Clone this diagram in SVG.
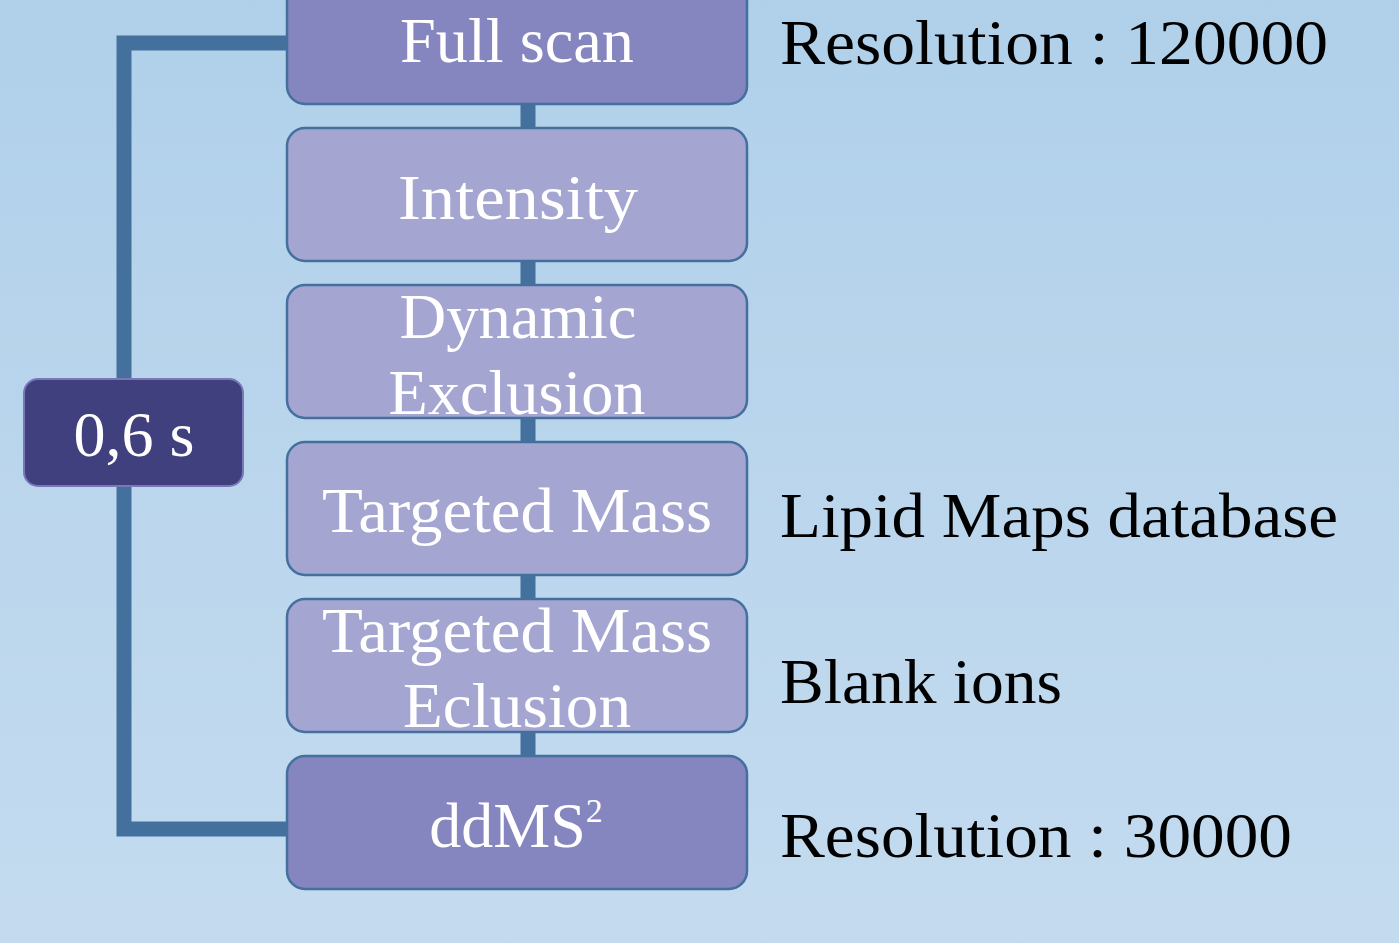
<svg xmlns="http://www.w3.org/2000/svg" width="1399" height="943" viewBox="0 0 1399 943">
<defs>
<linearGradient id="bg" x1="0" y1="0" x2="0" y2="1">
<stop offset="0" stop-color="#b0d0ea"/>
<stop offset="1" stop-color="#c4dbef"/>
</linearGradient>
<style>
.box{stroke:#44709e;stroke-width:2.5}
.dark{fill:#8585bf}
.light{fill:#a5a5d2}
.wt{font-family:"Liberation Serif","DejaVu Serif",serif;font-size:64px;fill:#ffffff;text-anchor:middle}
.bt{font-family:"Liberation Serif","DejaVu Serif",serif;font-size:64px;fill:#000000}
.conn{fill:none;stroke:#44709e;stroke-width:15}
</style>
</defs>
<rect width="1399" height="943" fill="url(#bg)"/>
<g id="connectors">
<polyline class="conn" points="290,43 124,43 124,829 290,829"/>
<line class="conn" x1="528" y1="100" x2="528" y2="760"/>
</g>
<g id="node-fullscan">
<rect class="box dark" x="287" y="-30" width="460" height="134" rx="18"/>
<text class="wt" x="517" y="62" textLength="234" lengthAdjust="spacingAndGlyphs">Full scan</text>
</g>
<g id="node-intensity">
<rect class="box light" x="287" y="128" width="460" height="133" rx="18"/>
<text class="wt" x="518" y="219" textLength="240" lengthAdjust="spacingAndGlyphs">Intensity</text>
</g>
<g id="node-dynamic">
<rect class="box light" x="287" y="285" width="460" height="133" rx="18"/>
<text class="wt" x="518" y="338" textLength="237" lengthAdjust="spacingAndGlyphs">Dynamic</text>
<text class="wt" x="517" y="414" textLength="257" lengthAdjust="spacingAndGlyphs">Exclusion</text>
</g>
<g id="node-targeted">
<rect class="box light" x="287" y="442" width="460" height="133" rx="18"/>
<text class="wt" x="517" y="532" textLength="390" lengthAdjust="spacingAndGlyphs">Targeted Mass</text>
</g>
<g id="node-eclusion">
<rect class="box light" x="287" y="599" width="460" height="133" rx="18"/>
<text class="wt" x="517" y="652" textLength="390" lengthAdjust="spacingAndGlyphs">Targeted Mass</text>
<text class="wt" x="517" y="727" textLength="228" lengthAdjust="spacingAndGlyphs">Eclusion</text>
</g>
<g id="node-ddms2">
<rect class="box dark" x="287" y="756" width="460" height="133" rx="18"/>
<text class="wt" x="516" y="847"><tspan>ddMS</tspan><tspan font-size="34" dy="-25">2</tspan></text>
</g>
<g id="node-time">
<rect x="24" y="379" width="219" height="107" rx="14" fill="#40407e" stroke="#7878b8" stroke-width="2"/>
<text class="wt" x="134" y="456" textLength="121" lengthAdjust="spacingAndGlyphs">0,6 s</text>
</g>
<g id="labels">
<text class="bt" x="780" y="64" textLength="548" lengthAdjust="spacingAndGlyphs">Resolution : 120000</text>
<text class="bt" x="780" y="537" textLength="558" lengthAdjust="spacingAndGlyphs">Lipid Maps database</text>
<text class="bt" x="780" y="703" textLength="282" lengthAdjust="spacingAndGlyphs">Blank ions</text>
<text class="bt" x="780" y="857" textLength="512" lengthAdjust="spacingAndGlyphs">Resolution : 30000</text>
</g>
</svg>
